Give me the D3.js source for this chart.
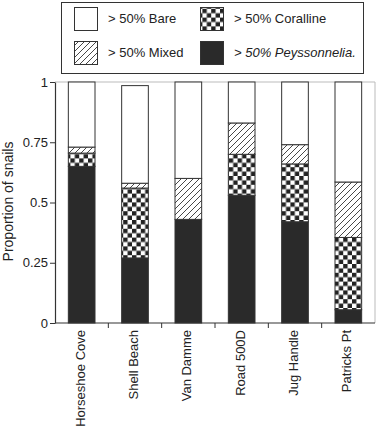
<!DOCTYPE html>
<html>
<head>
<meta charset="utf-8">
<script src="https://cdn.jsdelivr.net/npm/d3@7"></script>
<style>
  body { margin: 0; background: #fff; }
  svg { display: block; font-family: "Liberation Sans", Arial, sans-serif; }
</style>
</head>
<body>
<div id="chart"></div>
<script>
// sites along x axis
const sites = ["Horseshoe Cove", "Shell Beach", "Van Damme", "Road 500D", "Jug Handle", "Patricks Pt"]
// proportions of snails per substrate (bottom to top)
const peyssonnelia = [0.65, 0.27, 0.43, 0.53, 0.42, 0.055]
const coralline    = [0.055, 0.29, 0.0, 0.17, 0.24, 0.30]
const mixed        = [0.025, 0.02, 0.17, 0.13, 0.08, 0.23]
const bare         = [0.27, 0.405, 0.40, 0.17, 0.26, 0.415]
const yTicks = [0, 0.25, 0.5, 0.75, 1]
const yTickLabels = ["0", "0.25", "0.5", "0.75", "1"]

const width = 378
const height = 430
const margin = {left: 55, right: 2, top: 82, bottom: 107}

const svg = d3.select("#chart")
    .append("svg")
    .attr("width", width)
    .attr("height", height)

// patterns
const defs = svg.append("defs")
const hatch = defs.append("pattern")
    .attr("id", "hatch")
    .attr("patternUnits", "userSpaceOnUse")
    .attr("width", 6).attr("height", 6)
hatch.append("rect").attr("width", 6).attr("height", 6).attr("fill", "#fff")
hatch.append("path")
    .attr("d", "M-1,1 l2,-2 M0,6 l6,-6 M5,7 l2,-2")
    .attr("stroke", "#333").attr("stroke-width", 0.9)

const cs = 4.4
const checker = defs.append("pattern")
    .attr("id", "checker")
    .attr("patternUnits", "userSpaceOnUse")
    .attr("width", cs * 2).attr("height", cs * 2)
checker.append("rect").attr("width", cs * 2).attr("height", cs * 2).attr("fill", "#fff")
checker.append("rect").attr("width", cs).attr("height", cs).attr("fill", "#222")
checker.append("rect").attr("x", cs).attr("y", cs).attr("width", cs).attr("height", cs).attr("fill", "#222")

const fills = ["#2a2a2a", "url(#checker)", "url(#hatch)", "#fff"]
const keys = ["peyssonnelia", "coralline", "mixed", "bare"]

const rows = sites.map((s, i) => ({
  site: s,
  peyssonnelia: peyssonnelia[i],
  coralline: coralline[i],
  mixed: mixed[i],
  bare: bare[i]
}))

const stacked = d3.stack().keys(keys)(rows)

const x = d3.scaleBand()
    .domain(sites)
    .range([margin.left, width - margin.right - 1])
    .paddingInner(0.5)
    .paddingOuter(0.25)

const y = d3.scaleLinear()
    .domain([0, 1])
    .range([height - margin.bottom, margin.top])

// faint frame top and right
svg.append("path")
    .attr("d", `M${margin.left},${y(1)} H${width - margin.right - 1} V${y(0)}`)
    .attr("fill", "none")
    .attr("stroke", "#bbb")
    .attr("stroke-width", 1)

// bars
svg.append("g")
  .selectAll("g")
  .data(stacked)
  .join("g")
    .attr("fill", (d, i) => fills[i])
  .selectAll("rect")
  .data(d => d)
  .join("rect")
    .attr("x", d => x(d.data.site))
    .attr("y", d => y(d[1]))
    .attr("width", x.bandwidth())
    .attr("height", d => y(d[0]) - y(d[1]))
    .attr("stroke", "#333")
    .attr("stroke-width", 1)

// y axis
const yAxis = svg.append("g")
    .attr("transform", `translate(${margin.left},0)`)
    .call(d3.axisLeft(y).tickValues(yTicks).tickFormat((d, i) => yTickLabels[i]).tickSize(5).tickSizeOuter(0))
yAxis.select(".domain").attr("stroke", "#333").attr("stroke-width", 1.2)
yAxis.selectAll(".tick line").attr("stroke", "#333")
yAxis.selectAll(".tick text")
    .attr("font-size", 13)
    .attr("fill", "#222")
    .attr("font-family", "Liberation Sans, Arial, sans-serif")
    .attr("x", -7)

// x axis: ticks between bars
const step = x.step()
const bounds = d3.range(1, sites.length).map(i => margin.left + i * step)
const xAxisG = svg.append("g")
svg.append("line")
    .attr("x1", margin.left).attr("x2", width - margin.right - 1)
    .attr("y1", y(0)).attr("y2", y(0))
    .attr("stroke", "#333").attr("stroke-width", 1.2)
xAxisG.selectAll("line")
    .data(bounds)
    .join("line")
    .attr("x1", d => d).attr("x2", d => d)
    .attr("y1", y(0)).attr("y2", y(0) + 5)
    .attr("stroke", "#333")

svg.append("g")
  .selectAll("text")
  .data(sites)
  .join("text")
    .attr("transform", d => `translate(${x(d) + x.bandwidth() / 2 + 3},${y(0) + 7}) rotate(-90)`)
    .attr("text-anchor", "end")
    .attr("font-size", 13)
    .attr("fill", "#222")
    .text(d => d)

// y label
svg.append("text")
    .attr("transform", `translate(13,${(y(0) + y(1)) / 2 - 1}) rotate(-90)`)
    .attr("text-anchor", "middle")
    .attr("font-size", 14)
    .attr("fill", "#222")
    .text("Proportion of snails")

// legend
const legend = svg.append("g")
legend.append("rect")
    .attr("x", 61.5).attr("y", 2.5)
    .attr("width", 302).attr("height", 71)
    .attr("fill", "#fff")
    .attr("stroke", "#333")
    .attr("stroke-width", 1)

const legendItems = [
  {fill: fills[3], label: "> 50% Bare", x: 74, y: 7},
  {fill: fills[1], label: "> 50% Coralline", x: 200, y: 7},
  {fill: fills[2], label: "> 50% Mixed", x: 74, y: 41},
  {fill: fills[0], label: "> 50% ", italic: "Peyssonnelia.", x: 200, y: 41}
]
legendItems.forEach(it => {
  legend.append("rect")
      .attr("x", it.x + 0.5).attr("y", it.y + 0.5)
      .attr("width", 23).attr("height", 23)
      .attr("fill", it.fill)
      .attr("stroke", "#333")
  const t = legend.append("text")
      .attr("x", it.x + 34)
      .attr("y", it.y + 16)
      .attr("font-size", 13)
      .attr("fill", "#222")
  if (it.italic) {
    t.append("tspan").attr("font-style", "italic").text(it.label + it.italic)
  } else {
    t.text(it.label)
  }
})
</script>
</body>
</html>
